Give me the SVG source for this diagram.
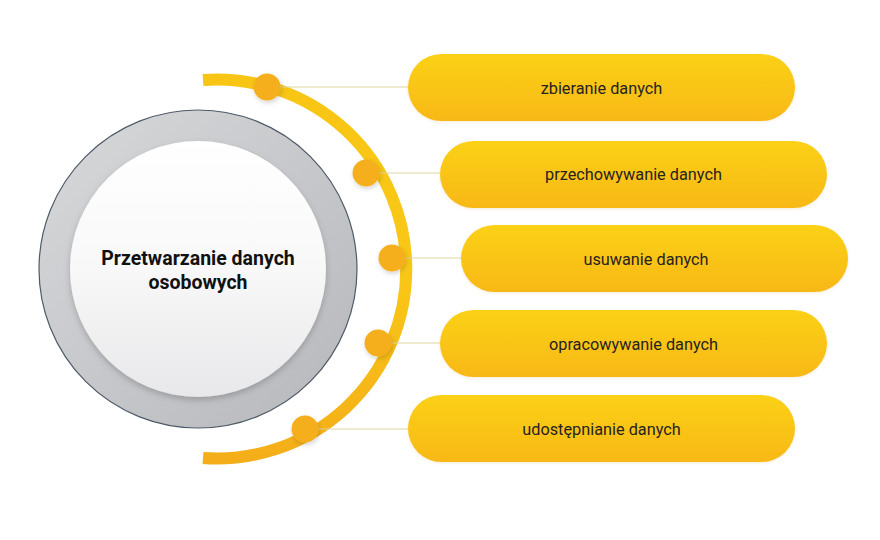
<svg xmlns="http://www.w3.org/2000/svg" width="880" height="540" viewBox="0 0 880 540">
  <defs>
    <linearGradient id="ringGrad" x1="0" y1="0" x2="1" y2="1">
      <stop offset="0" stop-color="#d8d9db"/>
      <stop offset="1" stop-color="#b6b7ba"/>
    </linearGradient>
    <linearGradient id="innerGrad" x1="0" y1="0" x2="0" y2="1">
      <stop offset="0" stop-color="#ffffff"/>
      <stop offset="0.5" stop-color="#f8f8f9"/>
      <stop offset="1" stop-color="#e8e8ea"/>
    </linearGradient>
    <linearGradient id="pillGrad" x1="0" y1="0" x2="0" y2="1">
      <stop offset="0" stop-color="#fbd117"/>
      <stop offset="1" stop-color="#f8b818"/>
    </linearGradient>
    <linearGradient id="arcGrad" gradientUnits="userSpaceOnUse" x1="0" y1="75" x2="0" y2="465">
      <stop offset="0" stop-color="#f8c514"/>
      <stop offset="0.5" stop-color="#f9c816"/>
      <stop offset="1" stop-color="#f4ad19"/>
    </linearGradient>
    <filter id="shadow" x="-50%" y="-50%" width="200%" height="200%">
      <feDropShadow dx="1" dy="2" stdDeviation="2.5" flood-color="#000" flood-opacity="0.18"/>
    </filter>
    <filter id="innerShadow" x="-20%" y="-20%" width="140%" height="140%">
      <feDropShadow dx="0" dy="3" stdDeviation="3" flood-color="#000" flood-opacity="0.2"/>
    </filter>
    <filter id="pillShadow" x="-10%" y="-20%" width="120%" height="150%">
      <feDropShadow dx="0" dy="1" stdDeviation="1.5" flood-color="#b07a00" flood-opacity="0.15"/>
    </filter>
  </defs>
  <style>
    .pill { fill: url(#pillGrad); filter: url(#pillShadow); }
    .label { font-family: Roboto, "Liberation Sans", sans-serif; font-size: 16.3px; fill: #262220; text-anchor: middle; dominant-baseline: central; }
    .title { font-family: Roboto, "Liberation Sans", sans-serif; font-size: 19.5px; font-weight: bold; fill: #111; text-anchor: middle; }
    .conn { stroke: #ddd6a2; stroke-width: 1; fill: none; }
    .dot { fill: #f5af1a; filter: url(#shadow); }
  </style>
  <rect width="880" height="540" fill="#ffffff"/>

  <g id="center">
    <circle cx="198" cy="269" r="159" fill="url(#ringGrad)" stroke="#4e5a68" stroke-width="1.2"/>
    <circle cx="198" cy="269" r="128" fill="url(#innerGrad)" filter="url(#innerShadow)"/>
    <text class="title" x="198" y="264.5">Przetwarzanie danych</text>
    <text class="title" x="198" y="289">osobowych</text>
  </g>

  <g id="arc">
    <path d="M 203 80 A 189.5 189.5 0 1 1 203 458" fill="none" stroke="url(#arcGrad)" stroke-width="12"/>
  </g>

  <g id="connectors">
    <line class="conn" x1="267" y1="87" x2="409" y2="87"/>
    <line class="conn" x1="366" y1="173" x2="441" y2="173"/>
    <line class="conn" x1="392" y1="258" x2="462" y2="258"/>
    <line class="conn" x1="378" y1="343" x2="441" y2="343"/>
    <line class="conn" x1="305" y1="429" x2="409" y2="429"/>
  </g>

  <g id="dots">
    <circle class="dot" cx="267" cy="87" r="13.5"/>
    <circle class="dot" cx="366" cy="173" r="13.5"/>
    <circle class="dot" cx="392" cy="258" r="13.5"/>
    <circle class="dot" cx="378" cy="343" r="13.5"/>
    <circle class="dot" cx="305" cy="429" r="13.5"/>
  </g>

  <g id="node1">
    <rect class="pill" x="408" y="54" width="387" height="67" rx="33.5"/>
    <text class="label" x="601.5" y="88">zbieranie danych</text>
  </g>
  <g id="node2">
    <rect class="pill" x="440" y="141" width="387" height="67" rx="33.5"/>
    <text class="label" x="633.5" y="174">przechowywanie danych</text>
  </g>
  <g id="node3">
    <rect class="pill" x="461" y="225" width="387" height="67" rx="33.5"/>
    <text class="label" x="646" y="259">usuwanie danych</text>
  </g>
  <g id="node4">
    <rect class="pill" x="440" y="310" width="387" height="67" rx="33.5"/>
    <text class="label" x="633.5" y="344">opracowywanie danych</text>
  </g>
  <g id="node5">
    <rect class="pill" x="408" y="395" width="387" height="67" rx="33.5"/>
    <text class="label" x="601.5" y="429">udostępnianie danych</text>
  </g>
</svg>
